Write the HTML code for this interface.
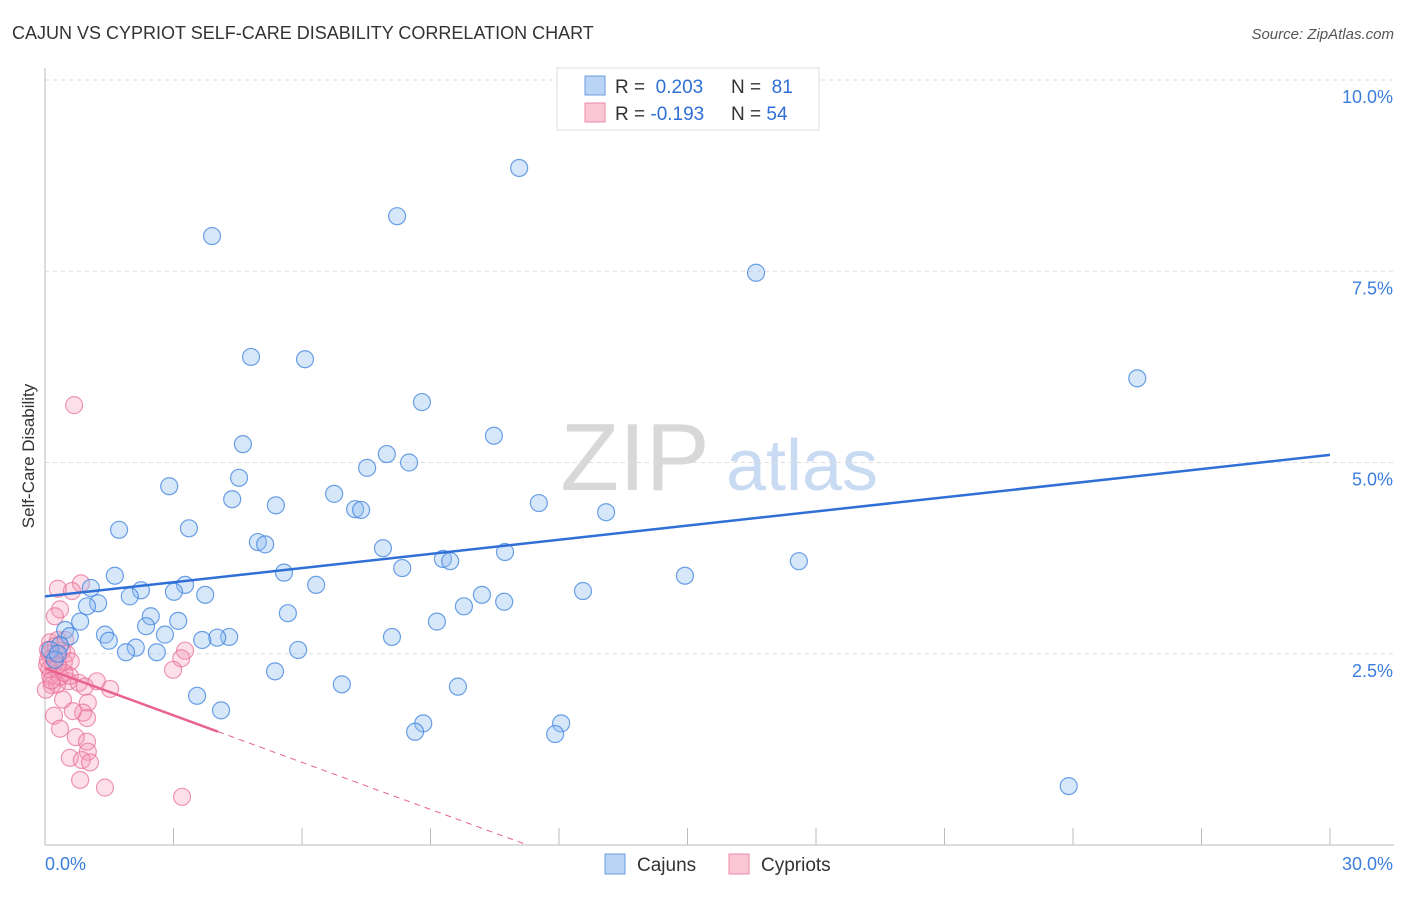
<!DOCTYPE html>
<html><head><meta charset="utf-8"><style>
body{margin:0;background:#fff;font-family:"Liberation Sans",sans-serif;}
svg text{font-family:"Liberation Sans",sans-serif;}
</style></head><body>
<svg id="chart" width="1406" height="892" xmlns="http://www.w3.org/2000/svg">
<text x="12" y="39" font-size="18" fill="#333">CAJUN VS CYPRIOT SELF-CARE DISABILITY CORRELATION CHART</text>
<text x="1394" y="39" font-size="15" fill="#555" text-anchor="end" font-style="italic">Source: ZipAtlas.com</text>
<g>
<text x="635" y="490" font-size="96" fill="#d8d8d8" text-anchor="middle" font-family="Liberation Serif">ZIP</text>
<text x="802" y="490" font-size="72" fill="#c9dbf2" text-anchor="middle">atlas</text>
</g>
<g id="grid"></g>
<g id="axes"></g>
<g id="marks"></g>
<text transform="translate(34,456) rotate(-90)" font-size="17" fill="#333" text-anchor="middle">Self-Care Disability</text>
<g>
<rect x="557" y="68" width="262" height="62" fill="#fff" stroke="#ddd"/>
<rect x="585" y="76" width="20" height="19" fill="#b9d4f5" stroke="#6a9be0"/>
<rect x="585" y="103" width="20" height="19" fill="#fbc6d4" stroke="#ec8aa6"/>
<text x="615" y="93" font-size="19" fill="#333">R = <tspan fill="#2f6fd6">&#160;0.203</tspan></text>
<text x="731" y="93" font-size="19" fill="#333">N = <tspan fill="#2f6fd6">&#160;81</tspan></text>
<text x="615" y="120" font-size="19" fill="#333">R = <tspan fill="#2f6fd6">-0.193</tspan></text>
<text x="731" y="120" font-size="19" fill="#333">N = <tspan fill="#2f6fd6">54</tspan></text>
</g>
<g>
<rect x="605" y="854" width="20" height="20" fill="#b9d4f5" stroke="#6a9be0"/>
<text x="637" y="871" font-size="19" fill="#333">Cajuns</text>
<rect x="729" y="854" width="20" height="20" fill="#fbc6d4" stroke="#ec8aa6"/>
<text x="761" y="871" font-size="19" fill="#333">Cypriots</text>
</g>
</svg>
<script>
const yTicks=[2.5,5.0,7.5,10.0];
const yTickLabels=["2.5%","5.0%","7.5%","10.0%"];
const xTicks=[3,6,9,12,15,18,21,24,27,30];
const cajunX=[11.07,8.22,3.90,16.6,25.5,4.81,6.07,8.80,10.48,4.62,7.98,8.50,7.52,4.53,2.90,6.75,4.37,5.39,7.24,7.38,11.53,13.10,1.73,3.36,4.97,5.14,7.89,10.74,9.29,9.46,17.6,8.34,5.58,14.94,1.63,6.33,3.27,1.07,2.24,3.01,1.98,3.74,12.56,10.2,10.72,9.78,1.24,0.98,5.67,2.47,3.11,0.82,2.36,9.15,0.47,2.80,1.40,8.10,4.30,4.02,3.67,1.49,0.58,2.12,1.89,2.61,0.35,5.91,5.37,6.93,9.64,3.55,4.11,8.83,8.64,12.05,11.91,23.9,0.12,0.23,0.3];
const cajunY=[8.85,8.22,7.96,7.48,6.10,6.38,6.35,5.79,5.35,5.24,5.11,5.0,4.93,4.80,4.69,4.59,4.52,4.44,4.39,4.38,4.47,4.35,4.12,4.14,3.96,3.93,3.88,3.83,3.74,3.71,3.71,3.62,3.56,3.52,3.52,3.40,3.40,3.36,3.33,3.31,3.25,3.27,3.32,3.27,3.18,3.12,3.16,3.12,3.03,2.99,2.93,2.92,2.86,2.92,2.81,2.75,2.75,2.72,2.72,2.71,2.68,2.67,2.73,2.58,2.52,2.52,2.61,2.55,2.27,2.10,2.07,1.95,1.76,1.59,1.48,1.59,1.45,0.77,2.55,2.42,2.5];
const cypX=[0.68,0.30,0.84,0.63,0.35,0.23,0.47,0.12,0.40,0.07,0.19,0.44,0.12,0.28,0.54,0.79,1.21,1.52,0.30,3.27,3.18,2.99,0.42,1.00,0.89,0.21,0.98,0.65,0.35,0.72,0.98,1.00,0.58,0.86,1.05,0.82,1.40,3.20,0.07,0.16,0.02,0.58,0.93,0.05,0.2,0.5,0.1,0.35,0.25,0.6,0.15,0.45,0.1,0.3];
const cypY=[5.75,3.35,3.42,3.32,3.08,2.99,2.68,2.65,2.54,2.42,2.33,2.39,2.21,2.10,2.14,2.12,2.14,2.04,2.68,2.54,2.44,2.29,1.90,1.86,1.73,1.69,1.66,1.75,1.52,1.41,1.35,1.22,1.14,1.11,1.08,0.85,0.75,0.63,2.55,2.09,2.03,2.21,2.07,2.35,2.45,2.5,2.3,2.2,2.6,2.4,2.15,2.25,2.5,2.35];
const cajunTrend=[3.25,5.10]; // value at x=0 and x=30
const cypTrend=[2.31,-0.205]; // intercept, slope
const cypSolidEnd=4.04;
const X=v=>45+v*(1285/30), Y=v=>845-v*76.5;
const NS="http://www.w3.org/2000/svg";
function mk(tag,attrs,parent){const e=document.createElementNS(NS,tag);for(const k in attrs)e.setAttribute(k,attrs[k]);document.getElementById(parent).appendChild(e);return e;}
yTicks.forEach((t,i)=>{
 const l=mk('line',{x1:45,x2:1394,y1:Y(t),y2:Y(t),stroke:'#ddd','stroke-dasharray':'4,4'},'grid');
 
 
 const tx=mk('text',{x:1393,y:Y(t)+23,'font-size':18,fill:'#3b7ddd','text-anchor':'end'},'grid');
 tx.textContent=yTickLabels[i];
 
 
});
const la=mk('line',{x1:45,x2:45,y1:68,y2:845,stroke:'#bbb'},'axes');


const ba=mk('line',{x1:45,x2:1394,y1:845,y2:845,stroke:'#bbb'},'axes');


xTicks.forEach(t=>{
 const l=mk('line',{x1:X(t),x2:X(t),y1:828,y2:845,stroke:'#bbb'},'axes');
 
 
});
const x0=mk('text',{x:45,y:870,'font-size':18,fill:'#3b7ddd'},'axes');x0.textContent='0.0%';


const x1=mk('text',{x:1393,y:870,'font-size':18,fill:'#3b7ddd','text-anchor':'end'},'axes');x1.textContent='30.0%';


cypX.forEach((v,i)=>{
 const c=mk('circle',{cx:X(v),cy:Y(cypY[i]),r:8.5,fill:'rgba(245,150,180,0.3)',stroke:'rgba(232,110,150,0.7)','stroke-width':1.2},'marks');
 
 
});
cajunX.forEach((v,i)=>{
 const c=mk('circle',{cx:X(v),cy:Y(cajunY[i]),r:8.5,fill:'rgba(140,185,240,0.35)',stroke:'rgba(60,130,220,0.75)','stroke-width':1.2},'marks');
 
 
});
const bt=mk('line',{x1:X(0),y1:Y(cajunTrend[0]),x2:X(30),y2:Y(cajunTrend[1]),stroke:'#2f6fd6','stroke-width':2.5},'marks');


const pt=mk('line',{x1:X(0),y1:Y(cypTrend[0]),x2:X(cypSolidEnd),y2:Y(cypTrend[0]+cypTrend[1]*cypSolidEnd),stroke:'#e8638f','stroke-width':2.5},'marks');


const xEnd=-cypTrend[0]/cypTrend[1];
const pd=mk('line',{x1:X(cypSolidEnd),y1:Y(cypTrend[0]+cypTrend[1]*cypSolidEnd),x2:X(xEnd),y2:Y(0),stroke:'#e8638f','stroke-width':1,'stroke-dasharray':'6,5'},'marks');


</script>
</body></html>
